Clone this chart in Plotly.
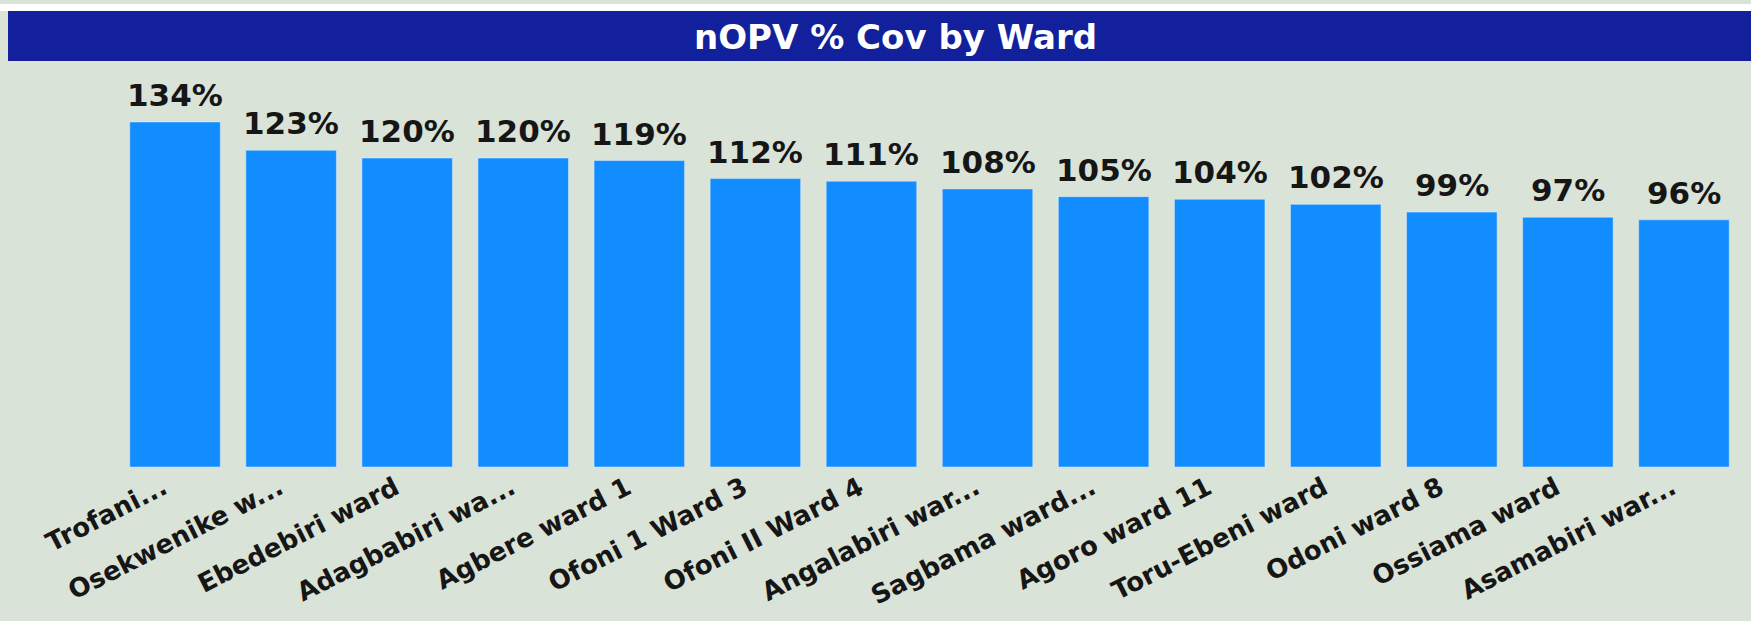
import plotly.graph_objects as go

wards = [
    "Trofani...", "Osekwenike w...", "Ebedebiri ward", "Adagbabiri wa...",
    "Agbere ward 1", "Ofoni 1 Ward 3", "Ofoni II Ward 4", "Angalabiri war...",
    "Sagbama ward...", "Agoro ward 11", "Toru-Ebeni ward", "Odoni ward 8",
    "Ossiama ward", "Asamabiri war...",
]
coverage = [134, 123, 120, 120, 119, 112, 111, 108, 105, 104, 102, 99, 97, 96]
labels = [f"{v}%" for v in coverage]

W, H = 1751, 621
ML, MR, MT, MB = 117, 9, 62, 154
PW, PH = W - ML - MR, H - MT - MB

BG = "#DAE3D7"
NAVY = "#12219B"
BLUE = "#118DFF"
INK = "#161616"


def px_x(px):
    return (px - ML) / PW


def px_y(py):
    return (H - MB - py) / PH


fig = go.Figure()
fig.add_trace(go.Bar(
    x=wards,
    y=coverage,
    marker_color=BLUE,
    cliponaxis=False,
    hoverinfo="skip",
))

# data labels sit a bit higher than plotly's "outside" text
for ward, val, lab in zip(wards, coverage, labels):
    fig.add_annotation(
        x=ward, y=val, text=lab, showarrow=False,
        yanchor="bottom", yshift=7,
        font=dict(family="DejaVu Sans", size=31, color=INK, weight="bold"),
    )

# header strip + title band
fig.add_shape(type="rect", xref="paper", yref="paper", layer="below",
              x0=px_x(0), x1=px_x(W), y0=px_y(11), y1=px_y(4),
              fillcolor="white", line_width=0)
fig.add_shape(type="rect", xref="paper", yref="paper", layer="below",
              x0=px_x(8), x1=px_x(W), y0=px_y(61), y1=px_y(11),
              fillcolor=NAVY, line_width=0)
fig.add_annotation(
    text="nOPV % Cov by Ward", xref="paper", yref="paper",
    x=px_x(895), y=px_y(37), xanchor="center", yanchor="middle",
    showarrow=False,
    font=dict(family="DejaVu Sans", size=34, color="white", weight="bold"),
)

fig.update_layout(
    width=W,
    height=H,
    margin=dict(l=ML, r=MR, t=MT, b=MB, pad=0),
    paper_bgcolor=BG,
    plot_bgcolor=BG,
    bargap=0.22,
    showlegend=False,
    xaxis=dict(
        tickangle=-27,
        tickfont=dict(family="DejaVu Sans", size=26, color=INK, weight="bold"),
        ticklabelshift=-12,
        showgrid=False, zeroline=False, showline=False, ticks="",
        automargin=False,
    ),
    yaxis=dict(
        range=[0, PH / 2.575],
        visible=False,
        showgrid=False, zeroline=False,
    ),
)

fig.write_html("out.html", config={"displayModeBar": False},
               post_script="document.body.style.margin='0';")
